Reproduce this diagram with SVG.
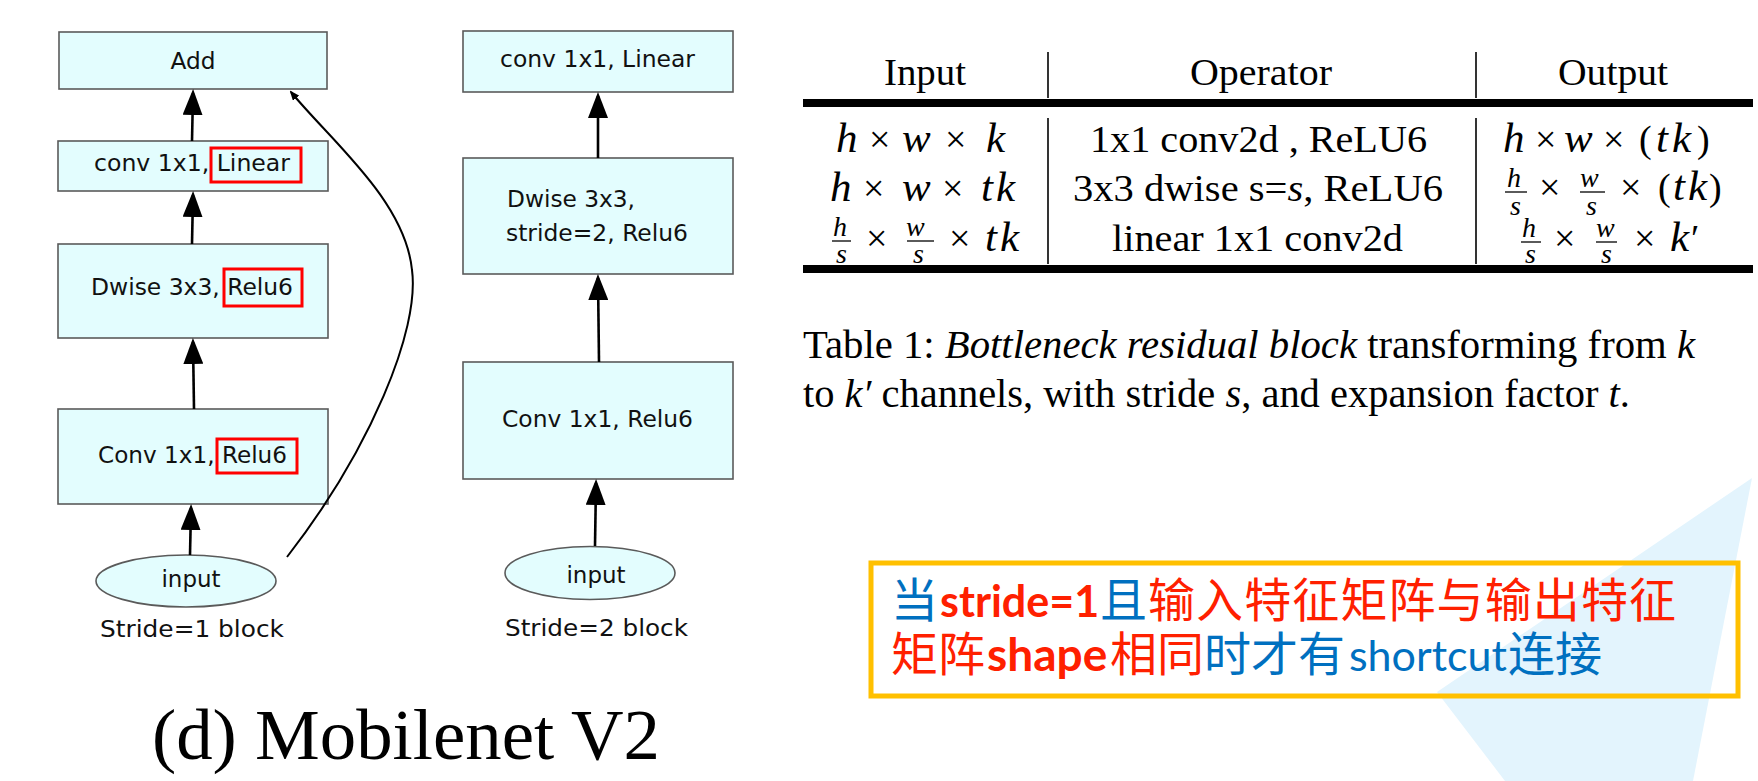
<svg xmlns="http://www.w3.org/2000/svg" width="1758" height="781" viewBox="0 0 1758 781">
<defs>
<style>
.box{fill:#E3FDFE;stroke:#5a5a5a;stroke-width:1.6}
.hl{fill:none;stroke:#FF0000;stroke-width:3}
.lbl{font-family:"DejaVu Sans",sans-serif;font-size:23px;fill:#111}
.edge{fill:none;stroke:#000;stroke-width:2.6}
.tb{font-family:"Liberation Serif",serif;font-size:38px;fill:#000}
.it{font-style:italic;font-size:43px}
.fr{font-size:28px;font-style:italic}
.bar{stroke:#000;stroke-width:1.3}
.vsep{stroke:#000;stroke-width:1.6}
.cap{font-family:"Liberation Serif",serif;font-size:40px;fill:#000}
.ci{font-style:italic}
.cjk{font-family:"Noto Sans CJK SC",sans-serif;font-size:47px}
.lat{font-family:Lato,"Noto Sans",sans-serif;font-size:43px}
.b{font-weight:bold}
.red{fill:#FF2000}
.blue{fill:#0070C0}
</style>
<marker id="ah" markerUnits="userSpaceOnUse" markerWidth="26" markerHeight="20" viewBox="0 0 26 20" refX="22" refY="10" orient="auto"><path d="M0,0 L26,10 L0,20 z" fill="#000"/></marker>
<marker id="ahs" markerUnits="userSpaceOnUse" markerWidth="10" markerHeight="8" viewBox="0 0 10 8" refX="8" refY="4" orient="auto"><path d="M0,0 L10,4 L0,8 z" fill="#000"/></marker>
</defs>
<rect width="1758" height="781" fill="#fff"/>
<polygon points="1752,478 1437,692 1505,781 1693,781" fill="#E3F4FD"/>

<!-- Left: stride=1 block -->
<g id="l-add"><rect class="box" x="59" y="32" width="268" height="57"/><text class="lbl" x="193" y="69" text-anchor="middle" textLength="45" lengthAdjust="spacingAndGlyphs">Add</text></g>
<g id="l-conv-linear"><rect class="box" x="58" y="141" width="270" height="50"/><text class="lbl" x="94" y="171" textLength="196" lengthAdjust="spacingAndGlyphs">conv 1x1, Linear</text><rect class="hl" x="211" y="148" width="90" height="34"/></g>
<g id="l-dwise"><rect class="box" x="58" y="244" width="270" height="94"/><text class="lbl" x="91" y="295" textLength="202" lengthAdjust="spacingAndGlyphs">Dwise 3x3, Relu6</text><rect class="hl" x="224" y="269" width="78" height="37"/></g>
<g id="l-conv-relu"><rect class="box" x="58" y="409" width="270" height="95"/><text class="lbl" x="98" y="463" textLength="189" lengthAdjust="spacingAndGlyphs">Conv 1x1, Relu6</text><rect class="hl" x="217" y="439" width="80" height="34"/></g>
<g id="l-input"><ellipse class="box" cx="186" cy="581" rx="90" ry="26"/><text class="lbl" x="191" y="587" text-anchor="middle" textLength="59" lengthAdjust="spacingAndGlyphs">input</text></g>
<g id="l-caption"><text class="lbl" x="100" y="637" textLength="184" lengthAdjust="spacingAndGlyphs">Stride=1 block</text></g>

<!-- Right: stride=2 block -->
<g id="r-conv-linear"><rect class="box" x="463" y="31" width="270" height="61"/><text class="lbl" x="500" y="67" textLength="195" lengthAdjust="spacingAndGlyphs">conv 1x1, Linear</text></g>
<g id="r-dwise"><rect class="box" x="463" y="158" width="270" height="116"/><text class="lbl" x="507" y="207" textLength="128" lengthAdjust="spacingAndGlyphs">Dwise 3x3,</text><text class="lbl" x="506" y="241" textLength="182" lengthAdjust="spacingAndGlyphs">stride=2, Relu6</text></g>
<g id="r-conv-relu"><rect class="box" x="463" y="362" width="270" height="117"/><text class="lbl" x="502" y="427" textLength="191" lengthAdjust="spacingAndGlyphs">Conv 1x1, Relu6</text></g>
<g id="r-input"><ellipse class="box" cx="590" cy="573" rx="85" ry="26.5"/><text class="lbl" x="596" y="583" text-anchor="middle" textLength="59" lengthAdjust="spacingAndGlyphs">input</text></g>
<g id="r-caption"><text class="lbl" x="505" y="636" textLength="183" lengthAdjust="spacingAndGlyphs">Stride=2 block</text></g>

<g id="title"><text x="152" y="759" font-family="Liberation Serif, serif" font-size="72" textLength="508" lengthAdjust="spacingAndGlyphs">(d) Mobilenet V2</text></g>

<g id="connectors">
<line class="edge" x1="192" y1="141" x2="193" y2="93" marker-end="url(#ah)"/>
<line class="edge" x1="192" y1="244" x2="193" y2="195" marker-end="url(#ah)"/>
<line class="edge" x1="194" y1="409" x2="193" y2="342" marker-end="url(#ah)"/>
<line class="edge" x1="190" y1="555" x2="191" y2="508" marker-end="url(#ah)"/>
<path class="edge" style="stroke-width:2" d="M287,557 C370,450 420,330 412,270 C405,200 330,140 291,92" marker-end="url(#ahs)"/>
<line class="edge" x1="598" y1="158" x2="598" y2="96" marker-end="url(#ah)"/>
<line class="edge" x1="599" y1="362" x2="598" y2="278" marker-end="url(#ah)"/>
<line class="edge" x1="595" y1="546" x2="596" y2="483" marker-end="url(#ah)"/>
</g>

<!-- Table -->
<g id="table">
<rect x="803" y="99" width="950" height="8" fill="#000"/>
<rect x="803" y="265" width="950" height="8" fill="#000"/>
<line class="vsep" x1="1048" y1="52" x2="1048" y2="98"/>
<line class="vsep" x1="1476" y1="52" x2="1476" y2="98"/>
<line class="vsep" x1="1048" y1="118" x2="1048" y2="264"/>
<line class="vsep" x1="1476" y1="118" x2="1476" y2="264"/>
<text class="tb" x="884" y="85" textLength="82" lengthAdjust="spacingAndGlyphs">Input</text>
<text class="tb" x="1190" y="85" textLength="142" lengthAdjust="spacingAndGlyphs">Operator</text>
<text class="tb" x="1558" y="85" textLength="110" lengthAdjust="spacingAndGlyphs">Output</text>

<!-- row 1 -->
<text class="tb" y="152"><tspan class="it" x="836">h</tspan><tspan x="869">×</tspan><tspan class="it" x="902">w</tspan><tspan x="945">×</tspan><tspan class="it" x="986">k</tspan></text>
<text class="tb" x="1090" y="152" textLength="337" lengthAdjust="spacingAndGlyphs">1x1 conv2d , ReLU6</text>
<text class="tb" y="152"><tspan class="it" x="1503">h</tspan><tspan x="1535">×</tspan><tspan class="it" x="1564">w</tspan><tspan x="1603">×</tspan><tspan x="1639">(</tspan><tspan class="it" x="1656">t</tspan><tspan class="it" x="1672">k</tspan><tspan x="1697">)</tspan></text>

<!-- row 2 -->
<text class="tb" y="201"><tspan class="it" x="830">h</tspan><tspan x="863">×</tspan><tspan class="it" x="902">w</tspan><tspan x="942">×</tspan><tspan class="it" x="981">t</tspan><tspan class="it" x="996">k</tspan></text>
<text class="tb" x="1073" y="201" textLength="370" lengthAdjust="spacingAndGlyphs">3x3 dwise s=<tspan class="ci">s</tspan>, ReLU6</text>
<text class="tb"><tspan class="fr" x="1507" y="187">h</tspan><tspan class="fr" x="1510" y="215">s</tspan><tspan x="1539" y="200">×</tspan><tspan class="fr" x="1580" y="187">w</tspan><tspan class="fr" x="1586" y="215">s</tspan><tspan x="1620" y="200">×</tspan><tspan x="1658" y="200">(</tspan><tspan class="it" x="1673" y="200">t</tspan><tspan class="it" x="1688" y="200">k</tspan><tspan x="1709" y="200">)</tspan></text>
<line class="bar" x1="1505" y1="192" x2="1527" y2="192"/>
<line class="bar" x1="1580" y1="192" x2="1605" y2="192"/>

<!-- row 3 -->
<text class="tb"><tspan class="fr" x="833" y="236">h</tspan><tspan class="fr" x="836" y="263">s</tspan><tspan x="866" y="251">×</tspan><tspan class="fr" x="906" y="236">w</tspan><tspan class="fr" x="913" y="263">s</tspan><tspan x="949" y="251">×</tspan><tspan class="it" x="985" y="251">t</tspan><tspan class="it" x="1000" y="251">k</tspan></text>
<line class="bar" x1="832" y1="241" x2="851" y2="241"/>
<line class="bar" x1="907" y1="241" x2="934" y2="241"/>
<text class="tb" x="1112" y="251" textLength="291" lengthAdjust="spacingAndGlyphs">linear 1x1 conv2d</text>
<text class="tb"><tspan class="fr" x="1522" y="237">h</tspan><tspan class="fr" x="1525" y="263">s</tspan><tspan x="1554" y="251">×</tspan><tspan class="fr" x="1596" y="237">w</tspan><tspan class="fr" x="1601" y="263">s</tspan><tspan x="1634" y="251">×</tspan><tspan class="it" x="1670" y="251">k</tspan><tspan x="1691" y="251">′</tspan></text>
<line class="bar" x1="1521" y1="242" x2="1541" y2="242"/>
<line class="bar" x1="1596" y1="242" x2="1617" y2="242"/>
</g>

<g id="table-caption">
<text class="cap" x="803" y="358" textLength="892" lengthAdjust="spacingAndGlyphs">Table 1: <tspan class="ci">Bottleneck residual block</tspan> transforming from <tspan class="ci">k</tspan></text>
<text class="cap" x="803" y="407" textLength="827" lengthAdjust="spacingAndGlyphs">to <tspan class="ci">k′</tspan> channels, with stride <tspan class="ci">s</tspan>, and expansion factor <tspan class="ci">t</tspan>.</text>
</g>

<g id="note">
<rect x="871" y="563" width="867" height="133" fill="none" stroke="#FFC000" stroke-width="5"/>
<text class="cjk"><tspan class="blue" x="891" y="617">当</tspan><tspan class="lat b red" x="940" y="617">stride=1</tspan><tspan class="blue" x="1100" y="617">且</tspan><tspan class="red" x="1148" y="617" letter-spacing="1.1">输入特征矩阵与输出特征</tspan><tspan class="red" x="891" y="671">矩阵</tspan><tspan class="lat b red" x="987" y="671" style="font-size:46px">shape</tspan><tspan class="red" x="1110" y="671">相同</tspan><tspan class="blue" x="1204" y="671">时才有</tspan><tspan class="lat blue" x="1349" y="671">shortcut</tspan><tspan class="blue" x="1508" y="671">连接</tspan></text>
</g>
</svg>
